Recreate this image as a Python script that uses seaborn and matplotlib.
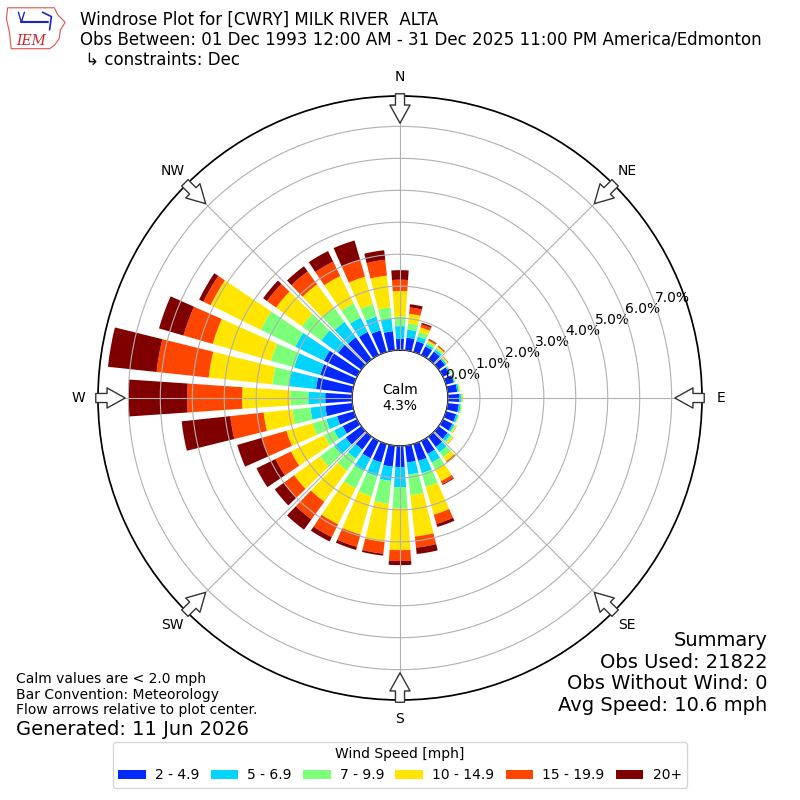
"""Windrose for CWRY Milk River, December"""

import numpy as np
import matplotlib
matplotlib.use('Agg')
import matplotlib.pyplot as plt
from matplotlib.patches import Patch, Polygon
import seaborn as sns

# direction bins (degrees, meteorological convention)
directions = np.arange(0, 360, 10)
compass_labels = ['N', 'NE', 'E', 'SE', 'S', 'SW', 'W', 'NW']
speed_labels = ['2 - 4.9', '5 - 6.9', '7 - 9.9', '10 - 14.9', '15 - 19.9', '20+']
speed_colors = ['#0028ff', '#00d4ff', '#7cff79', '#ffe500', '#ff4600', '#800000']
radial_ticks = [0, 1, 2, 3, 4, 5, 6, 7]

# frequency (%) per direction bin for each speed class
pct_2_5 = [0.35, 0.40, 0.35, 0.30, 0.30, 0.25, 0.22, 0.25, 0.30, 0.35, 0.35, 0.33,
           0.33, 0.35, 0.40, 0.45, 0.55, 0.53, 0.66, 0.66, 0.60, 0.60, 0.50, 0.60,
           0.50, 0.55, 0.85, 0.84, 1.14, 1.10, 1.15, 0.90, 0.85, 0.80, 0.70, 0.60]
pct_5_7 = [0.40, 0.25, 0.15, 0.08, 0.08, 0.05, 0.04, 0.04, 0.05, 0.06, 0.06, 0.06,
           0.07, 0.10, 0.20, 0.30, 0.40, 0.38, 0.63, 0.45, 0.45, 0.45, 0.35, 0.45,
           0.30, 0.35, 0.47, 0.53, 0.85, 0.85, 1.00, 0.65, 0.60, 0.50, 0.45, 0.40]
pct_7_10 = [0.30, 0.20, 0.15, 0.07, 0.06, 0.03, 0.02, 0.02, 0.03, 0.03, 0.03, 0.03,
            0.04, 0.07, 0.20, 0.25, 0.45, 0.65, 0.66, 0.72, 0.65, 0.60, 0.47, 0.55,
            0.35, 0.45, 0.57, 0.56, 0.53, 0.75, 1.20, 0.75, 0.55, 0.50, 0.40, 0.35]
pct_10_15 = [0.80, 0.30, 0.15, 0.05, 0.05, 0.03, 0.02, 0.02, 0.02, 0.03, 0.02, 0.02,
             0.03, 0.05, 0.15, 0.40, 0.90, 1.30, 1.31, 1.20, 1.25, 1.25, 1.20, 1.00,
             1.15, 0.85, 0.90, 1.51, 2.00, 1.90, 1.75, 1.00, 0.90, 0.95, 0.90, 1.00]
pct_15_20 = [0.35, 0.20, 0.10, 0.04, 0.03, 0.02, 0.00, 0.00, 0.00, 0.00, 0.00, 0.00,
             0.01, 0.01, 0.04, 0.10, 0.30, 0.35, 0.34, 0.37, 0.40, 0.45, 0.68, 0.40,
             0.54, 0.80, 1.05, 1.72, 1.64, 0.95, 0.25, 0.35, 0.50, 0.50, 0.55, 0.50]
pct_20_up = [0.30, 0.10, 0.05, 0.02, 0.01, 0.00, 0.00, 0.00, 0.00, 0.00, 0.00, 0.00,
             0.00, 0.00, 0.01, 0.03, 0.10, 0.20, 0.13, 0.06, 0.10, 0.15, 0.40, 0.35,
             0.66, 0.80, 1.53, 1.84, 1.53, 0.80, 0.15, 0.15, 0.20, 0.37, 0.63, 0.30]

calm_pct = 4.3
title_lines = ['Windrose Plot for [CWRY] MILK RIVER  ALTA',
               'Obs Between: 01 Dec 1993 12:00 AM - 31 Dec 2025 11:00 PM America/Edmonton',
               ' \u21b3 constraints: Dec']
summary_lines = ['Summary', 'Obs Used: 21822', 'Obs Without Wind: 0', 'Avg Speed: 10.6 mph']
note_lines = ['Calm values are < 2.0 mph', 'Bar Convention: Meteorology',
              'Flow arrows relative to plot center.']

sns.set_theme(style='white')
plt.rcParams['font.family'] = ['DejaVu Sans']
plt.rcParams['text.color'] = 'black'
plt.rcParams['xtick.color'] = 'black'
plt.rcParams['ytick.color'] = 'black'

fig = plt.figure(figsize=(8, 8), dpi=100)
ax = fig.add_axes([0.1225, 0.125, 0.755, 0.755], projection='polar')
ax.set_theta_zero_location('N')
ax.set_theta_direction(-1)
ax.set_rorigin(-1.5)
ax.set_ylim(0, 7.95)

theta = np.deg2rad(directions)
width = np.deg2rad(10) * 0.78
bottom = np.zeros(len(directions))
for vals, color in zip([pct_2_5, pct_5_7, pct_7_10, pct_10_15, pct_15_20, pct_20_up],
                       speed_colors):
    ax.bar(theta, vals, width=width, bottom=bottom, color=color, linewidth=0)
    bottom = bottom + np.array(vals)

# grid + labels
ax.set_axisbelow(False)
ax.grid(True, color='#b0b0b0', linewidth=0.8)
ax.set_thetagrids(np.arange(0, 360, 45), labels=compass_labels, fontsize=10)
ax.tick_params(axis='x', pad=1, labelcolor='black')
ax.set_rticks(radial_ticks)
ax.set_yticklabels([f'{t:.1f}%' for t in radial_ticks], fontsize=10, color='black')
ax.set_rlabel_position(70)
ax.spines['polar'].set_color('black')
ax.spines['inner'].set_color('black')
ax.spines['inner'].set_linewidth(1.0)

ax.text(0.5, 0.5, f'Calm\n{calm_pct}%', transform=ax.transAxes,
        ha='center', va='center', fontsize=10)

# inward flow arrows at the 8 compass points
for deg in range(0, 360, 45):
    ann = ax.annotate('', xy=(np.deg2rad(deg), 7.1), xytext=(np.deg2rad(deg), 8.02),
                      annotation_clip=False,
                      arrowprops=dict(arrowstyle='simple,head_length=0.9,head_width=1.0,tail_width=0.45',
                                      fc='white', ec='#333333', lw=1,
                                      shrinkA=0, shrinkB=0, mutation_scale=14.5))
    ann.arrow_patch.set_clip_on(False)

# header
fig.text(0.1, 0.986, '\n'.join(title_lines), ha='left', va='top', fontsize=12,
         linespacing=1.12)

# small logo
lax = fig.add_axes([0.008, 0.938, 0.075, 0.055])
lax.set_xlim(0, 1)
lax.set_ylim(0, 1)
lax.axis('off')
iowa = [(0.02, 0.95), (0.8, 0.95), (0.85, 0.8), (0.98, 0.62), (0.9, 0.45),
        (0.88, 0.25), (0.8, 0.1), (0.72, 0.02), (0.08, 0.02), (0.05, 0.4), (0.0, 0.7)]
lax.add_patch(Polygon(iowa, closed=True, fill=False, ec='#e05050', lw=0.8))
lax.plot([0.25, 0.7], [0.62, 0.62], color='#1a22cc', lw=1.5)
lax.plot([0.2, 0.25, 0.3], [0.85, 0.62, 0.85], color='#1a22cc', lw=1)
lax.plot([0.6, 0.75, 0.72], [0.85, 0.75, 0.45], color='#1a22cc', lw=1.2)
lax.text(0.42, 0.2, 'IEM', color='#cc2222', fontsize=10, family='DejaVu Serif',
         style='italic', ha='center', va='center')

# summary block
fig.text(0.959, 0.211, '\n'.join(summary_lines), ha='right', va='top', fontsize=14,
         linespacing=1.17)

# notes
fig.text(0.02, 0.16, '\n'.join(note_lines), ha='left', va='top', fontsize=10,
         linespacing=1.15)
fig.text(0.02, 0.1, 'Generated: 11 Jun 2026', ha='left', va='top', fontsize=14)

# legend
handles = [Patch(facecolor=c, edgecolor='none') for c in speed_colors]
fig.legend(handles, speed_labels, loc='lower center', bbox_to_anchor=(0.5, 0.0065),
           ncol=6, title='Wind Speed [mph]', fontsize=10, title_fontsize=10,
           frameon=True, handlelength=2.0, handleheight=0.6, handletextpad=0.65,
           columnspacing=0.8)

fig.savefig('out.png', dpi=100)
